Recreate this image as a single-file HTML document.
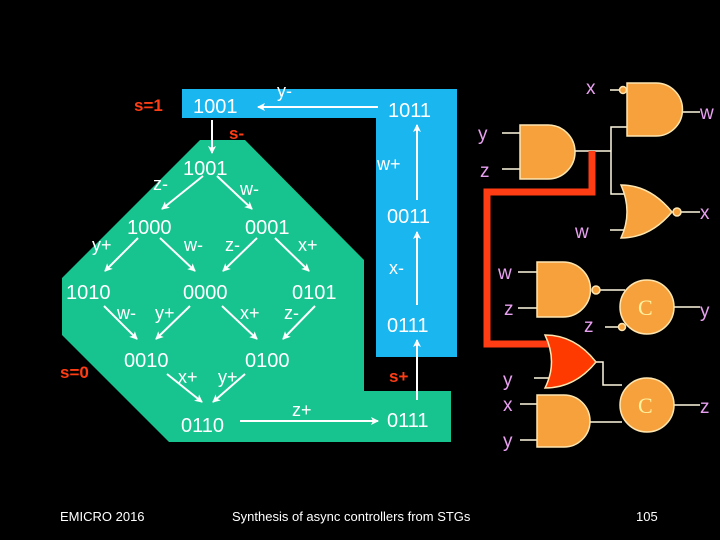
<!DOCTYPE html>
<html><head><style>html,body{margin:0;padding:0;background:#000}svg{display:block}</style></head><body>
<svg width="720" height="540" viewBox="0 0 720 540" xmlns="http://www.w3.org/2000/svg" font-family="Liberation Sans, sans-serif">
<defs><marker id="a" markerWidth="8" markerHeight="8" refX="7" refY="4" orient="auto" markerUnits="userSpaceOnUse"><path d="M0,0 L8,4 L0,8 L2,4 Z" fill="#fff"/></marker></defs>
<rect width="720" height="540" fill="#000"/>
<polygon points="182,89 457,89 457,357 376,357 376,118 182,118" fill="#1ab6f0"/>
<polygon points="200,140 245,140 364,260 364,391 451,391 451,442 169,442 62,335 62,278" fill="#17c48f"/>
<g fill="#fff" font-size="20">
<text x="193" y="113">1001</text><text x="388" y="117">1011</text>
<text x="183" y="175">1001</text><text x="127" y="234">1000</text><text x="245" y="234">0001</text>
<text x="66" y="299">1010</text><text x="183" y="299">0000</text><text x="292" y="299">0101</text>
<text x="124" y="367">0010</text><text x="245" y="367">0100</text>
<text x="181" y="432">0110</text><text x="387" y="427">0111</text>
<text x="387" y="223">0011</text><text x="387" y="332">0111</text>
</g>
<g fill="#fff" font-size="18">
<text x="277" y="97">y-</text><text x="377" y="170">w+</text><text x="389" y="274">x-</text>
<text x="153" y="190">z-</text><text x="240" y="195">w-</text>
<text x="92" y="251">y+</text><text x="184" y="251">w-</text><text x="225" y="251">z-</text><text x="298" y="251">x+</text>
<text x="117" y="319">w-</text><text x="155" y="319">y+</text><text x="240" y="319">x+</text><text x="284" y="319">z-</text>
<text x="178" y="383">x+</text><text x="218" y="383">y+</text><text x="292" y="416">z+</text>
</g>
<g fill="#ff3d14" font-size="17" font-weight="bold">
<text x="134" y="111">s=1</text><text x="229" y="139">s-</text><text x="60" y="378">s=0</text><text x="389" y="382">s+</text>
</g>
<g stroke="#fff" stroke-width="2" marker-end="url(#a)">
<line x1="378" y1="107" x2="258" y2="107"/><line x1="212" y1="120" x2="212" y2="153"/>
<line x1="417" y1="200" x2="417" y2="125"/><line x1="417" y1="305" x2="417" y2="232"/><line x1="417" y1="400" x2="417" y2="340"/>
<line x1="240" y1="421" x2="378" y2="421"/>
<line x1="203" y1="176" x2="162" y2="209"/><line x1="217" y1="176" x2="252" y2="209"/>
<line x1="138" y1="238" x2="105" y2="271"/><line x1="160" y1="238" x2="195" y2="271"/>
<line x1="257" y1="238" x2="223" y2="271"/><line x1="275" y1="238" x2="309" y2="271"/>
<line x1="104" y1="306" x2="137" y2="339"/><line x1="190" y1="306" x2="156" y2="339"/>
<line x1="222" y1="306" x2="257" y2="339"/><line x1="315" y1="306" x2="283" y2="339"/>
<line x1="167" y1="374" x2="202" y2="402"/><line x1="245" y1="374" x2="213" y2="402"/>
</g>
<!-- circuit wires -->
<g stroke="#fff8e0" stroke-width="1.5" fill="none">
<line x1="610" y1="90" x2="620" y2="90"/><path d="M627,127 H611 V194 H625"/>
<line x1="575" y1="151" x2="611" y2="151"/>
<line x1="502" y1="133" x2="520" y2="133"/><line x1="502" y1="169" x2="520" y2="169"/>
<line x1="683" y1="112" x2="700" y2="112"/><line x1="681" y1="212" x2="700" y2="212"/>
<line x1="610" y1="230" x2="624" y2="230"/>
<line x1="518" y1="272" x2="537" y2="272"/><line x1="518" y1="308" x2="537" y2="308"/>
<line x1="600" y1="290" x2="625" y2="290"/><line x1="674" y1="307" x2="700" y2="307"/>
<line x1="605" y1="327" x2="619" y2="327"/>
<line x1="534" y1="378" x2="549" y2="378"/>
<path d="M596,362 H603 V385 H622"/>
<line x1="674" y1="405" x2="700" y2="405"/>
<line x1="520" y1="404" x2="537" y2="404"/><line x1="520" y1="440" x2="537" y2="440"/>
<line x1="590" y1="422" x2="622" y2="422"/>
</g>
<path d="M592,151 V192 H487 V344 H550" stroke="#ff3d14" stroke-width="7" fill="none"/>
<g fill="#f7a13c" stroke="#ffe6b0" stroke-width="1.5">
<path d="M627,83 H656 A26.5,26.5 0 0 1 656,136 H627 Z"/>
<path d="M520,125 H548 A27,27 0 0 1 548,179 H520 Z"/>
<path d="M621,185 Q650,185 672,212 Q650,238 621,238 Q633,212 621,185 Z"/>
<path d="M537,262 H563 A27.5,27.5 0 0 1 563,317 H537 Z"/>
<path d="M537,395 H564 A26,26 0 0 1 564,447 H537 Z"/>
<circle cx="647" cy="307" r="27"/><circle cx="647" cy="405" r="27"/>
<circle cx="623" cy="90" r="3.5"/><circle cx="677" cy="212" r="4"/><circle cx="596" cy="290" r="4"/><circle cx="622" cy="327" r="3.5"/>
</g>
<path d="M545,335 Q575,335 596,362 Q575,388 545,388 Q558,362 545,335 Z" fill="#ff3a00" stroke="#ffe6b0" stroke-width="1.5"/>
<g fill="#fff3a0" font-size="22" font-family="Liberation Serif, serif"><text x="638" y="315">C</text><text x="638" y="413">C</text></g>
<g fill="#e8a0f0" font-size="19">
<text x="586" y="94">x</text><text x="700" y="119">w</text>
<text x="478" y="140">y</text><text x="480" y="177">z</text>
<text x="575" y="238">w</text><text x="700" y="219">x</text>
<text x="498" y="279">w</text><text x="504" y="315">z</text><text x="584" y="332">z</text><text x="700" y="317">y</text>
<text x="503" y="386">y</text><text x="503" y="411">x</text><text x="503" y="447">y</text><text x="700" y="413">z</text>
</g>
<g fill="#fff" font-size="13">
<text x="60" y="521">EMICRO 2016</text><text x="232" y="521">Synthesis of async controllers from STGs</text><text x="636" y="521">105</text>
</g>
</svg>
</body></html>
